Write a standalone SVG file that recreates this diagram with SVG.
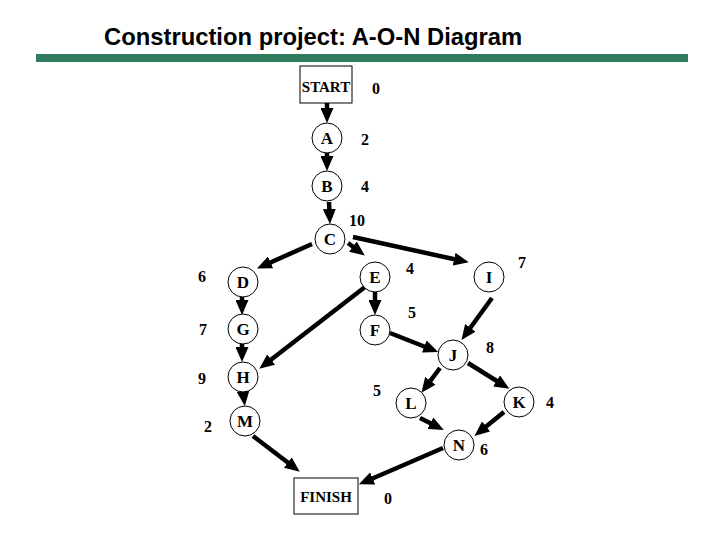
<svg xmlns="http://www.w3.org/2000/svg" width="720" height="540" viewBox="0 0 720 540">
<defs>
<marker id="ah" markerUnits="userSpaceOnUse" markerWidth="15" markerHeight="13" refX="4" refY="6.5" orient="auto">
<path d="M0,0 L15,6.5 L0,13 Z" fill="#000"/>
</marker>
<style>
.title{font-family:"Liberation Sans",Arial,sans-serif;font-weight:bold;font-size:23.8px;fill:#000}
.n circle{fill:#fff;stroke:#000;stroke-width:1}
.n rect{fill:#fff;stroke:#000;stroke-width:1}
.lbl{font-family:"Liberation Serif","Times New Roman",serif;font-weight:bold;font-size:17px;text-anchor:middle;fill:#000}
.box{font-family:"Liberation Serif","Times New Roman",serif;font-weight:bold;font-size:15px;text-anchor:middle;fill:#000}
.num{font-family:"Liberation Serif","Times New Roman",serif;font-weight:bold;font-size:16px;text-anchor:middle;fill:#000}
.e line{stroke:#000;stroke-width:4.5;marker-end:url(#ah)}
</style>
</defs>
<rect width="720" height="540" fill="#fff"/>
<text class="title" x="104" y="45">Construction project: A-O-N Diagram</text>
<rect x="36" y="54" width="652" height="8" fill="#2e7b5e"/>

<g id="connectors" class="e">
<line x1="327" y1="103" x2="327" y2="112"/>
<line x1="327" y1="153" x2="327" y2="160"/>
<line x1="329" y1="202" x2="329.5" y2="213"/>
<line x1="312" y1="244" x2="267" y2="264"/>
<line x1="348" y1="243" x2="356" y2="249"/>
<line x1="353" y1="237" x2="458" y2="260"/>
<line x1="242" y1="297" x2="242" y2="304"/>
<line x1="242" y1="344" x2="242" y2="351"/>
<line x1="243" y1="391" x2="243.5" y2="395"/>
<line x1="365" y1="287" x2="268" y2="362"/>
<line x1="375" y1="292" x2="375" y2="304"/>
<line x1="390" y1="333" x2="428" y2="348"/>
<line x1="492" y1="298" x2="468" y2="331"/>
<line x1="440" y1="368" x2="428" y2="384"/>
<line x1="468" y1="363" x2="500" y2="383"/>
<line x1="420" y1="418" x2="434" y2="425"/>
<line x1="504" y1="412" x2="483" y2="429"/>
<line x1="443" y1="448" x2="369" y2="480"/>
<line x1="253" y1="436" x2="291" y2="465"/>
</g>

<g id="START" class="n"><rect x="300" y="66" width="52" height="37"/><text class="box" x="326" y="92">START</text></g>
<g id="A" class="n"><circle cx="327" cy="138" r="15"/><text class="lbl" x="327" y="144">A</text></g>
<g id="B" class="n"><circle cx="327" cy="186" r="15"/><text class="lbl" x="327" y="192">B</text></g>
<g id="C" class="n"><circle cx="330" cy="239" r="15"/><text class="lbl" x="330" y="245">C</text></g>
<g id="D" class="n"><circle cx="243" cy="282" r="15"/><text class="lbl" x="243" y="288">D</text></g>
<g id="E" class="n"><circle cx="375" cy="277" r="15"/><text class="lbl" x="375" y="283">E</text></g>
<g id="I" class="n"><circle cx="489" cy="277" r="15"/><text class="lbl" x="489" y="283">I</text></g>
<g id="G" class="n"><circle cx="243" cy="329" r="15"/><text class="lbl" x="243" y="335">G</text></g>
<g id="F" class="n"><circle cx="375" cy="330" r="15"/><text class="lbl" x="375" y="336">F</text></g>
<g id="J" class="n"><circle cx="453" cy="355" r="15"/><text class="lbl" x="453" y="361">J</text></g>
<g id="H" class="n"><circle cx="243" cy="377" r="15"/><text class="lbl" x="243" y="383">H</text></g>
<g id="L" class="n"><circle cx="411" cy="403" r="15"/><text class="lbl" x="411" y="409">L</text></g>
<g id="K" class="n"><circle cx="519" cy="402" r="15"/><text class="lbl" x="519" y="408">K</text></g>
<g id="M" class="n"><circle cx="245" cy="421" r="15"/><text class="lbl" x="245" y="427">M</text></g>
<g id="N" class="n"><circle cx="459" cy="445" r="15"/><text class="lbl" x="459" y="451">N</text></g>
<g id="FINISH" class="n"><rect x="294" y="478" width="64" height="36"/><text class="box" x="326" y="502">FINISH</text></g>

<g id="durations">
<text class="num" x="376" y="94">0</text>
<text class="num" x="365" y="145">2</text>
<text class="num" x="365" y="192">4</text>
<text class="num" x="357" y="226">10</text>
<text class="num" x="202" y="282">6</text>
<text class="num" x="410" y="274">4</text>
<text class="num" x="522" y="268">7</text>
<text class="num" x="203" y="335">7</text>
<text class="num" x="412" y="318">5</text>
<text class="num" x="490" y="353">8</text>
<text class="num" x="202" y="384">9</text>
<text class="num" x="377" y="396">5</text>
<text class="num" x="550" y="408">4</text>
<text class="num" x="208" y="432">2</text>
<text class="num" x="484" y="455">6</text>
<text class="num" x="388" y="504">0</text>
</g>
</svg>
